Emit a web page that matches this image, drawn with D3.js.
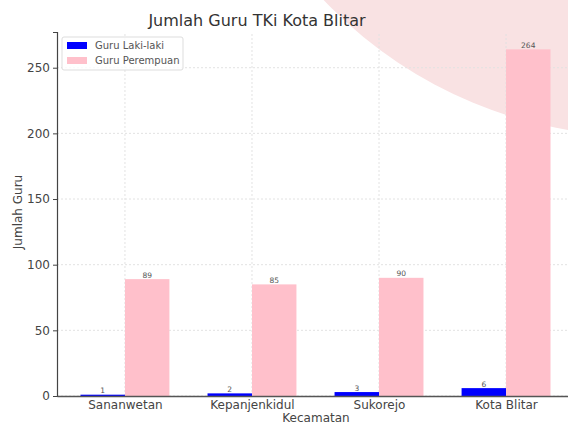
<!DOCTYPE html>
<html>
<head>
<meta charset="utf-8">
<script src="https://cdn.jsdelivr.net/npm/d3@7"></script>
<style>
  body { margin: 0; background: #fff; }
  svg { display: block; font-family: "DejaVu Sans", sans-serif; }
</style>
</head>
<body>
<div id="chart"></div>
<script>
// DATA
const kecamatan = ["Sananwetan", "Kepanjenkidul", "Sukorejo", "Kota Blitar"];
const guruLaki = [1, 2, 3, 6];
const guruPerempuan = [89, 85, 90, 264];
const yTicks = [0, 50, 100, 150, 200, 250];
const seriesNames = ["Guru Laki-laki", "Guru Perempuan"];
const seriesColors = ["#0000ff", "#ffc0cb"];

const width = 568;
const height = 425;
const barW = 0.35;

const svg = d3
  .select("#chart")
  .append("svg")
  .attr("width", width)
  .attr("height", height);

// decorative circle in the background (top right)
svg
  .append("circle")
  .attr("cx", 640)
  .attr("cy", -300)
  .attr("r", 436)
  .attr("fill", "#f9e2e3");

const x = d3.scaleLinear().domain([-0.535, 3.535]).range([57, 574]);
const y = d3.scaleLinear().domain([0, 264 * 1.05]).range([396, 32]);

// GRID
const grid = svg.append("g").attr("stroke", "#e2e2e2").attr("stroke-dasharray", "2,2");
grid
  .selectAll("line.h")
  .data(yTicks)
  .join("line")
  .attr("x1", x.range()[0])
  .attr("x2", x.range()[1])
  .attr("y1", (d) => y(d))
  .attr("y2", (d) => y(d));
grid
  .selectAll("line.v")
  .data(kecamatan)
  .join("line")
  .attr("x1", (d, i) => x(i))
  .attr("x2", (d, i) => x(i))
  .attr("y1", y.range()[0])
  .attr("y2", y.range()[1]);

// BARS
const series = [guruLaki, guruPerempuan];
series.forEach((vals, s) => {
  const off = s === 0 ? -barW : 0;
  svg
    .append("g")
    .selectAll("rect")
    .data(vals)
    .join("rect")
    .attr("x", (d, i) => x(i + off))
    .attr("width", x(barW) - x(0))
    .attr("y", (d) => y(d))
    .attr("height", (d) => y(0) - y(d))
    .attr("fill", seriesColors[s]);

  svg
    .append("g")
    .selectAll("text")
    .data(vals)
    .join("text")
    .attr("x", (d, i) => x(i + off + barW / 2))
    .attr("y", (d) => y(d) - 1.5)
    .attr("text-anchor", "middle")
    .style("font-size", "7.5px")
    .style("fill", "#555")
    .text((d) => d);
});

// AXES
const yAxis = svg
  .append("g")
  .attr("transform", `translate(${x.range()[0]},0)`)
  .call(d3.axisLeft(y).tickValues(yTicks).tickSize(4).tickPadding(3));
yAxis.select(".domain").attr("stroke", "#444").attr("stroke-width", 1.2);
yAxis.selectAll(".tick line").attr("stroke", "#444");
yAxis
  .selectAll(".tick text")
  .style("font-size", "12px")
  .style("font-family", "DejaVu Sans")
  .style("fill", "#444");

const xAxis = svg
  .append("g")
  .attr("transform", `translate(0,${y(0)})`)
  .call(
    d3
      .axisBottom(x)
      .tickValues(d3.range(kecamatan.length))
      .tickFormat((i) => kecamatan[i])
      .tickSize(0)
      .tickPadding(4)
  );
xAxis.select(".domain").attr("stroke", "#555").attr("stroke-width", 1.5);
xAxis
  .selectAll(".tick text")
  .style("font-size", "12px")
  .style("font-family", "DejaVu Sans")
  .style("fill", "#444");

// LABELS
svg
  .append("text")
  .attr("x", 316)
  .attr("y", 422)
  .attr("text-anchor", "middle")
  .style("font-size", "12px")
  .style("fill", "#444")
  .text("Kecamatan");

svg
  .append("text")
  .attr("transform", "translate(22,212) rotate(-90)")
  .attr("text-anchor", "middle")
  .style("font-size", "12px")
  .style("fill", "#444")
  .text("Jumlah Guru");

svg
  .append("text")
  .attr("x", 257)
  .attr("y", 26)
  .attr("text-anchor", "middle")
  .style("font-size", "16px")
  .style("fill", "#333")
  .text("Jumlah Guru TKi Kota Blitar");

// LEGEND
const legend = svg.append("g").attr("transform", "translate(62,37)");
legend
  .append("rect")
  .attr("width", 121)
  .attr("height", 33)
  .attr("rx", 2)
  .attr("fill", "#fff")
  .attr("fill-opacity", 0.8)
  .attr("stroke", "#ddd");
seriesNames.forEach((name, i) => {
  legend
    .append("rect")
    .attr("x", 5)
    .attr("y", 5 + i * 15)
    .attr("width", 20)
    .attr("height", 7)
    .attr("fill", seriesColors[i]);
  legend
    .append("text")
    .attr("x", 33)
    .attr("y", 12 + i * 15)
    .style("font-size", "10px")
    .style("fill", "#555")
    .text(name);
});
</script>
</body>
</html>
